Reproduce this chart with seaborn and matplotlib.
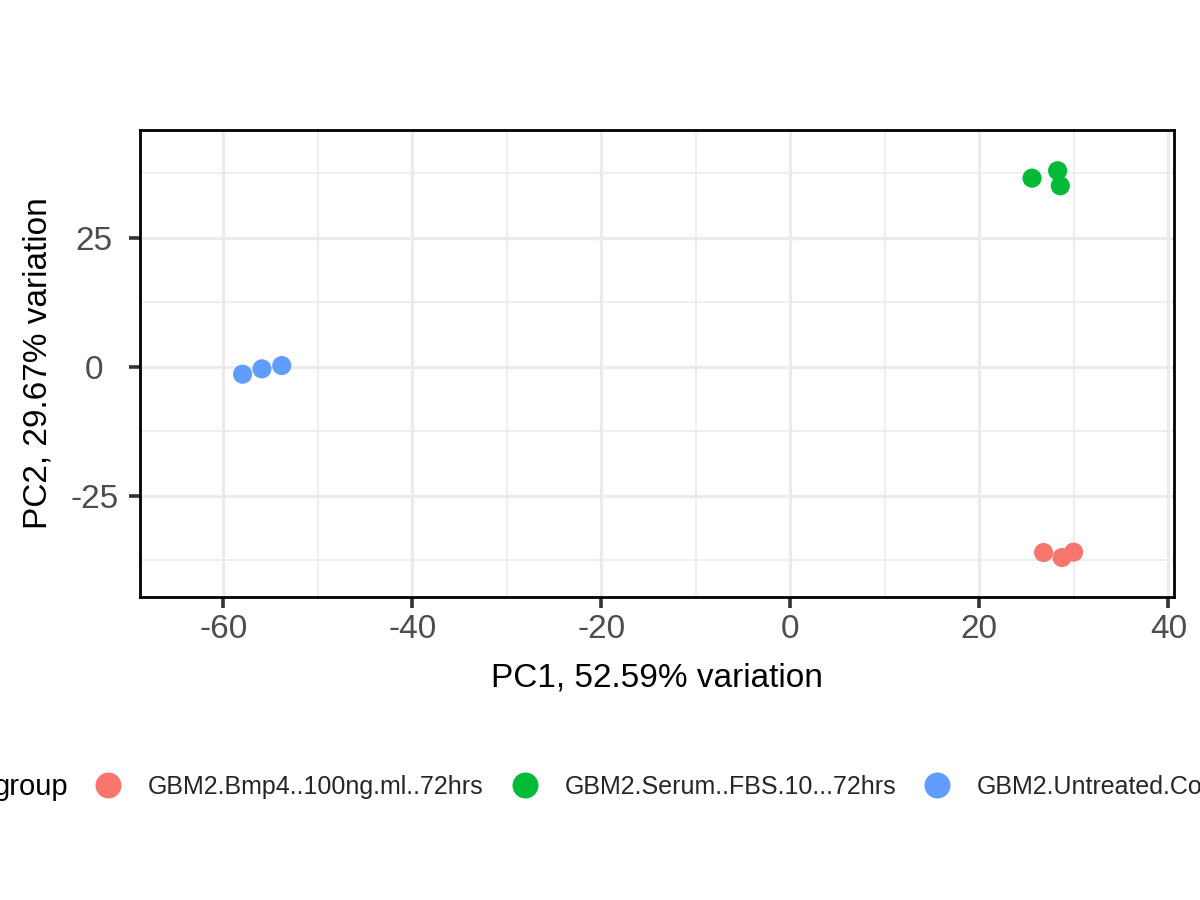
import matplotlib
matplotlib.use("Agg")
import matplotlib.pyplot as plt
from matplotlib.ticker import MultipleLocator, FixedLocator
from matplotlib.lines import Line2D
import seaborn as sns
import pandas as pd

# ---- data ----
groups = ["GBM2.Bmp4..100ng.ml..72hrs", "GBM2.Serum..FBS.10...72hrs", "GBM2.Untreated.Control"]
sample_group = [groups[0]] * 3 + [groups[1]] * 3 + [groups[2]] * 3
pc1 = [26.8, 28.75, 29.98, 25.58, 28.29, 28.57, -57.95, -55.9, -53.8]
pc2 = [-35.99, -36.95, -35.9, 36.57, 38.0, 35.08, -1.42, -0.39, 0.25]
colors = ["#F8766D", "#00BA38", "#619CFF"]
x_ticks = [-60, -40, -20, 0, 20, 40]
y_ticks = [-25, 0, 25]
x_label = "PC1, 52.59% variation"
y_label = "PC2, 29.67% variation"
legend_title = "group"

df = pd.DataFrame({"PC1": pc1, "PC2": pc2, "group": sample_group})

sns.set_theme(style="white")
plt.rcParams["font.family"] = ["Liberation Sans", "DejaVu Sans"]

fig = plt.figure(figsize=(12, 9), dpi=100)
ax = fig.add_axes([140 / 1200, 1 - 597 / 900, (1174 - 140) / 1200, (597 - 130) / 900])

sns.scatterplot(data=df, x="PC1", y="PC2", hue="group", hue_order=groups,
                palette=colors, s=190, linewidth=0, ax=ax, zorder=3)

ax.set_xlim(-68.8, 40.6)
ax.set_ylim(-44.6, 45.9)
ax.xaxis.set_major_locator(FixedLocator(x_ticks))
ax.yaxis.set_major_locator(FixedLocator(y_ticks))
ax.xaxis.set_minor_locator(MultipleLocator(10))
ax.yaxis.set_minor_locator(MultipleLocator(12.5))
ax.set_xticklabels([str(v) for v in x_ticks])
ax.set_yticklabels([str(v) for v in y_ticks])

ax.set_axisbelow(True)
ax.grid(which="major", color="#EBEBEB", linewidth=2.3)
ax.grid(which="minor", color="#EBEBEB", linewidth=1.2)
for sp in ax.spines.values():
    sp.set_visible(True)
    sp.set_color("black")
    sp.set_linewidth(2.0)

ax.tick_params(which="major", direction="out", length=8, width=2.6, color="#333333",
               labelsize=24, labelcolor="#4D4D4D", bottom=True, left=True)
ax.tick_params(axis="x", which="major", pad=4.5)
ax.tick_params(axis="y", which="major", pad=25)
ax.tick_params(which="minor", length=0)
for lab in ax.get_yticklabels():
    lab.set_horizontalalignment("center")

ax.set_xlabel(x_label, fontsize=24, color="black")
ax.set_ylabel(y_label, fontsize=24, color="black")
ax.xaxis.set_label_coords(0.5, (597 - 678) / 467)
ax.xaxis.label.set_va("center")
ax.yaxis.set_label_coords((38 - 140) / 1034, 0.5)
ax.yaxis.label.set_va("center")

ax.get_legend().remove()
handles = [Line2D([], [], linestyle="none", marker="o", markersize=18.7,
                  markerfacecolor=c, markeredgewidth=0) for c in colors]
leg = fig.legend(handles, groups, loc="center left", bbox_to_anchor=(95.5 / 1200, 1 - 787 / 900),
                 ncol=3, frameon=False, fontsize=18, handlelength=1.0, handletextpad=1.1,
                 columnspacing=1.14, borderpad=0, borderaxespad=0)
fig.text(68 / 1200, 1 - 787 / 900, legend_title, ha="right", va="center", fontsize=21, color="black")

fig.savefig("out.png", dpi=100)
